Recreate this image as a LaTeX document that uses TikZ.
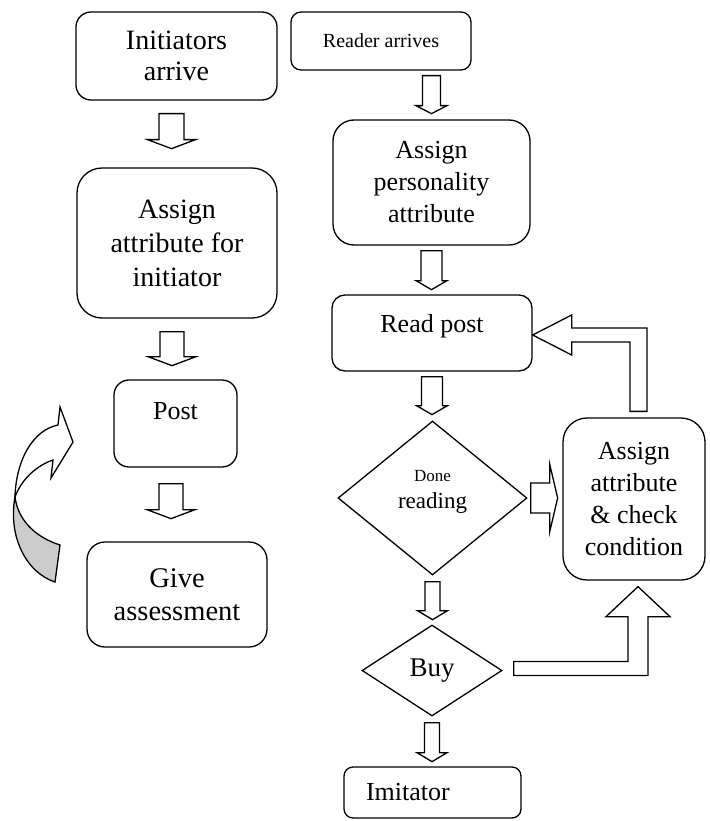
\documentclass[tikz,border=0pt]{standalone}
\usepackage{fontspec}
\setmainfont{Liberation Serif}
\usetikzlibrary{shapes.geometric,calc}
\tikzset{
  box/.style={draw, line width=1.3pt, rounded corners=#1, align=center, inner sep=4pt,
    font=\fontsize{26}{32}\selectfont},
  box/.default=15pt,
  choice/.style={draw, diamond, line width=1.3pt, inner sep=0pt, align=center,
    font=\fontsize{26}{32}\selectfont},
  blk/.style={draw, line width=1.3pt, line join=miter},
  pics/blockarr/.style args={#1/#2/#3/#4}{code={
    \draw[blk] (0,-#2) -- (#1-#4,-#2) -- (#1-#4,-#3) -- (#1,0)
      -- (#1-#4,#3) -- (#1-#4,#2) -- (0,#2) -- cycle;}},
}
\begin{document}
\begin{tikzpicture}[x=1pt,y=-1pt]
\useasboundingbox (0,0) rectangle (709,821);
\node[box, minimum width=201pt, minimum height=88pt, font=\fontsize{28}{31}\selectfont] (ini) at (176.5,56) {Initiators\\arrive};
\node[box=25pt, minimum width=200pt, minimum height=150pt, font=\fontsize{28}{34}\selectfont] (asg) at (177,243) {Assign\\attribute for\\initiator};
\node[box, minimum width=123pt, minimum height=87pt, text height=18pt, text depth=27pt] (post) at (175.5,423.5) {Post};
\node[box=18pt, minimum width=180pt, minimum height=105pt, font=\fontsize{28.5}{33}\selectfont] (give) at (177,594.5) {Give\\assessment};
\node[box=10pt, minimum width=180pt, minimum height=58pt, font=\fontsize{20}{24}\selectfont] (rdr) at (381,41) {Reader arrives};
\node[box=21pt, minimum width=197pt, minimum height=125pt] (pers) at (431.5,182.5) {Assign\\personality\\attribute};
\node[box=13pt, minimum width=200pt, minimum height=76pt, text height=18pt, text depth=20pt] (readp) at (432,333) {Read post};
\node[choice, minimum width=189pt, minimum height=154pt, text depth=18pt] (done) at (432.5,498)
  {\fontsize{17}{20}\selectfont Done\\[-5pt]\fontsize{23}{25}\selectfont reading};
\node[choice, minimum width=140pt, minimum height=91pt, font=\fontsize{27}{32}\selectfont] (buy) at (432,670.5) {Buy};
\node[box=9pt, minimum width=177pt, minimum height=51pt, text width=133pt, align=left] (imit) at (432.5,792.5) {Imitator};
\node[box=24pt, minimum width=142pt, minimum height=162pt] (chk) at (634,499) {Assign\\attribute\\\& check\\condition};
\pic[rotate=-90] at ($(ini.south)+(-5,13)$) {blockarr=35/12.5/24/9};
\pic[rotate=-90] at ($(asg.south)+(-5,13)$) {blockarr=34/12/24/9};
\pic[rotate=-90] at ($(post.south)+(-4.5,16)$) {blockarr=35/12/24/9};
\pic[rotate=-90] at ($(rdr.south -| pers.north)+(0,5)$) {blockarr=38/9/15.5/8};
\pic[rotate=-90] at ($(pers.south)+(0,5)$) {blockarr=39/10.5/15.5/9};
\pic[rotate=-90] at ($(readp.south)+(0,5)$) {blockarr=38/10.5/15.5/9};
\pic[rotate=-90] at ($(done.south)+(0,6)$) {blockarr=38/7.5/15/9};
\pic[rotate=-90] at ($(buy.south)+(0,6)$) {blockarr=39/7.5/15/9};
\pic at ($(done.east)+(3,0)$) {blockarr=27/15/34/8};
\coordinate (u0) at ($(chk.north)+(4.5,-6)$);
\coordinate (u1) at ($(readp.east)+(0,2)$);
\draw[blk] ($(u0)+(-8.5,0)$) -- ($(u0 |- u1)+(-8.5,7)$) -- ($(u1)+(39,7)$) -- ($(u1)+(39,20)$)
  -- (u1) -- ($(u1)+(39,-20)$) -- ($(u1)+(39,-7)$) -- ($(u0 |- u1)+(8.5,-7)$) -- ($(u0)+(8.5,0)$) -- cycle;
\coordinate (v0) at ($(buy.east)+(11,-2)$);
\coordinate (v1) at ($(chk.south)+(4,6)$);
\draw[blk] ($(v0)+(0,-7)$) -- ($(v1 |- v0)+(-10,-7)$) -- ($(v1)+(-10,30)$) -- ($(v1)+(-32,30)$)
  -- (v1) -- ($(v1)+(32,30)$) -- ($(v1)+(10,30)$) -- ($(v1 |- v0)+(10,7)$) -- ($(v0)+(0,7)$) -- cycle;
\draw[blk, fill=black!20] (15,497) .. controls (8,535) and (25,572) .. (55,582)
  -- (60,545) .. controls (35,537) and (18,520) .. (15,497) -- cycle;
\draw[blk, fill=white] (15,497) .. controls (16,460) and (33,430) .. (58,425)
  -- (60,407) -- (73,442) -- (51,478) -- (53,460) .. controls (38,465) and (22,478) .. (15,497) -- cycle;
\end{tikzpicture}
\end{document}
